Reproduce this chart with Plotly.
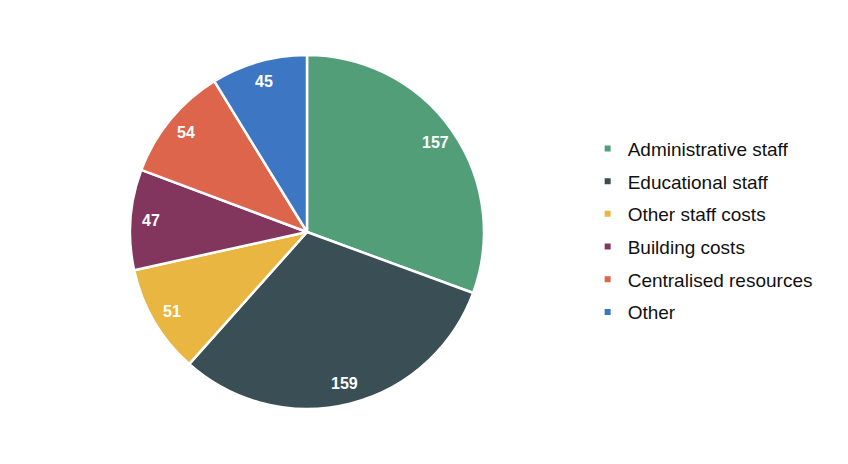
import math
import plotly.graph_objects as go

labels = ["Administrative staff", "Educational staff", "Other staff costs",
          "Building costs", "Centralised resources", "Other"]
values = [157, 159, 51, 47, 54, 45]
colors = ["#529E78", "#3A4E55", "#E8B641", "#82365E", "#DC654B", "#3D77C4"]

W, H = 848, 464
left, right, top, bottom = 130, 484, 55, 409
dom_x = [left / W, right / W]
dom_y = [(H - bottom) / H, (H - top) / H]

fig = go.Figure()
fig.add_trace(go.Pie(
    labels=labels, values=values, sort=False, direction="clockwise", rotation=0,
    marker=dict(colors=colors, line=dict(color="white", width=2.5)),
    textinfo="none", domain=dict(x=dom_x, y=dom_y),
    hoverinfo="label+value", showlegend=False,
))

# legend entries (one per category, separated groups to get the spacing)
for i, (lab, col) in enumerate(zip(labels, colors)):
    fig.add_trace(go.Scatter(
        x=[None], y=[None], mode="markers", name=lab, legendgroup=f"g{i}",
        marker=dict(symbol="square", size=6, color=col),
        showlegend=True, hoverinfo="skip",
    ))

# value labels placed along slice mid-angles
cx = (left + right) / 2
cy = (top + bottom) / 2
R = (right - left) / 2
total = sum(values)
cum = 0
for v in values:
    mid = (cum + v / 2) / total * 2 * math.pi
    cum += v
    r = R * 0.885
    px = cx + r * math.sin(mid)
    py = cy - r * math.cos(mid)
    fig.add_annotation(
        x=px / W, y=1 - py / H, xref="paper", yref="paper", text=str(v),
        showarrow=False, xanchor="center", yanchor="middle",
        font=dict(family="Liberation Sans, Arial", size=16, color="white", weight="bold"),
    )

fig.update_layout(
    width=W, height=H, margin=dict(l=0, r=0, t=0, b=0),
    paper_bgcolor="white", plot_bgcolor="white",
    font=dict(family="Liberation Sans, Arial", color="#111111"),
    xaxis=dict(visible=False), yaxis=dict(visible=False),
    legend=dict(x=0.693, y=0.503, xanchor="left", yanchor="middle",
                font=dict(size=19, color="#111111"), itemwidth=30,
                tracegroupgap=5, traceorder="grouped"),
    showlegend=True,
)
fig.write_html("out.html")
